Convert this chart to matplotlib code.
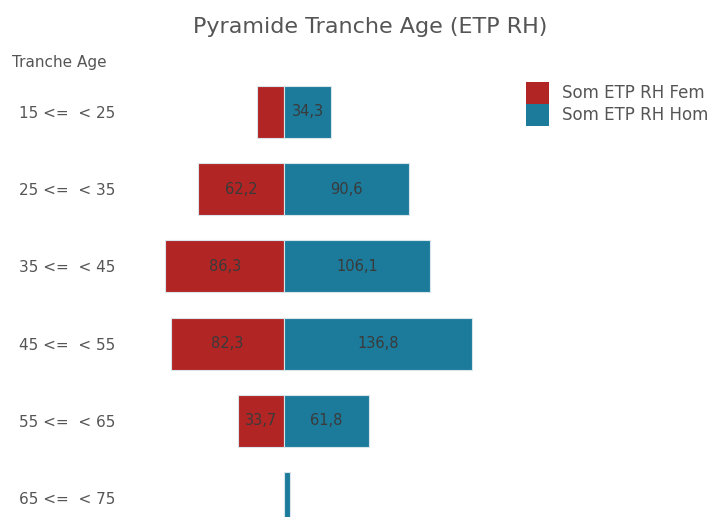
"""Pyramide Tranche Age (ETP RH) - horizontal back-to-back bar chart."""

import matplotlib

matplotlib.use("Agg")
import matplotlib.pyplot as plt
from matplotlib.patches import Patch

tranches = ["15 <=  < 25", "25 <=  < 35", "35 <=  < 45", "45 <=  < 55", "55 <=  < 65", "65 <=  < 75"]
etp_fem = [19.5, 62.2, 86.3, 82.3, 33.7, 0.0]
etp_hom = [34.3, 90.6, 106.1, 136.8, 61.8, 4.4]

RED = "#b22525"
BLUE = "#1c7b9b"
GREY = "#555555"

W, H = 719, 517
fig = plt.figure(figsize=(W / 100, H / 100), dpi=100)
ax = fig.add_axes([160.25 / W, 0, 330 / W, (H - 86) / H])

pos = list(range(len(tranches)))
edge = dict(edgecolor="#d8e6ec", linewidth=0.8)
ax.barh(pos, [-v for v in etp_fem], height=0.674, color=RED, **edge)
ax.barh(pos, etp_hom, height=0.674, color=BLUE, **edge)


def fmt(v):
    return f"{v:.1f}".replace(".", ",")


for i, (f, h) in enumerate(zip(etp_fem, etp_hom)):
    if f > 25:
        ax.text(-f / 2, i, fmt(f), ha="center", va="center", fontsize=10.5, color="#3a3a3a")
    if h > 25:
        ax.text(h / 2, i, fmt(h), ha="center", va="center", fontsize=10.5, color="#3a3a3a")

ax.set_xlim(-90, 150)
ax.set_ylim(5.246, -0.335)
ax.set_xticks([])
ax.set_yticks(pos)
ax.set_yticklabels(tranches, ha="left", fontsize=11, color=GREY)
ax.tick_params(axis="y", length=0, pad=102)
for s in ax.spines.values():
    s.set_visible(False)

fig.text(12 / W, 1 - 62 / H, "Tranche Age", ha="left", va="center", fontsize=11, color=GREY)
fig.text(370 / W, 1 - 27 / H, "Pyramide Tranche Age (ETP RH)", ha="center", va="center",
         fontsize=16, color=GREY)

handles = [Patch(facecolor=RED, label="Som ETP RH Fem"), Patch(facecolor=BLUE, label="Som ETP RH Hom")]
fig.legend(handles=handles, loc="upper left", bbox_to_anchor=(526 / W, 1 - 82 / H),
           frameon=False, fontsize=12, labelcolor=GREY, labelspacing=0,
           handleheight=1.65, handlelength=1.4, handletextpad=0.75, borderaxespad=0,
           borderpad=0)

fig.savefig("out.png", dpi=100)
